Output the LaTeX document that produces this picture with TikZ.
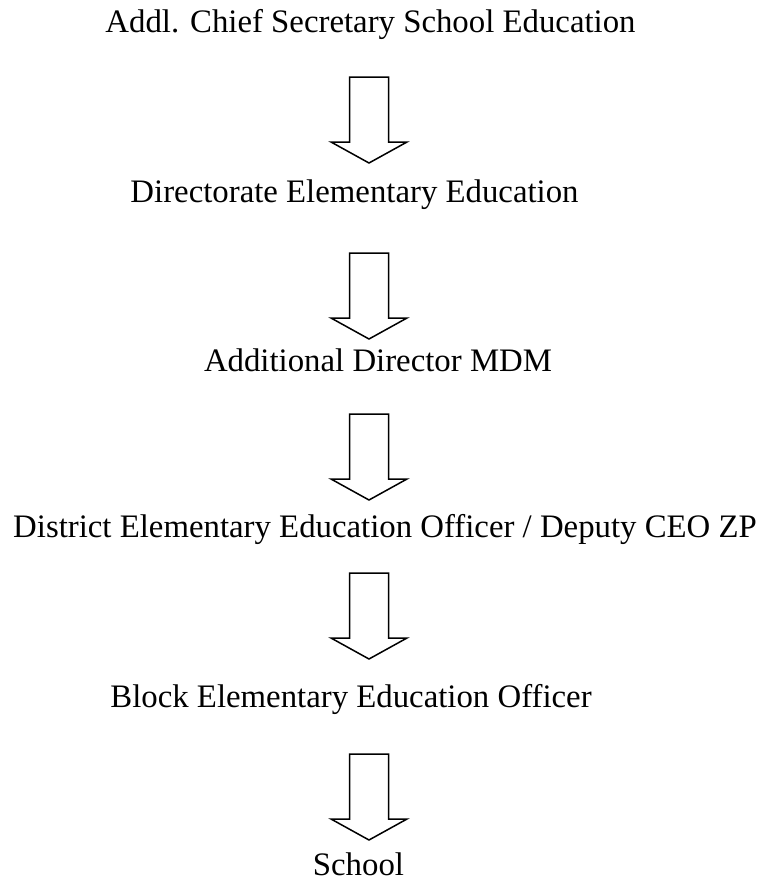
\documentclass[tikz,border=0pt]{standalone}
\usepackage{fontspec}
\setmainfont{Liberation Serif}
\tikzset{
    level text/.style={anchor=base, inner sep=0pt, text depth=0pt, font=\fontsize{32.8pt}{40pt}\selectfont},
    outline/.style={draw=black, line width=1.5pt}
}
\def\blockarrow{++(-19.5,0) -- ++(0,65) -- ++(-18.5,0) -- ++(38,21) -- ++(38,-21) -- ++(-18.5,0) -- ++(0,-65) -- cycle}

\begin{document}
\begin{tikzpicture}[x=1pt, y=-1pt]
    % Fix the page to the size of the chart
    \useasboundingbox (0,0) rectangle (762,879);

    % The offices, top to bottom
    \node[level text] (secy)   at (370.5,32)  {Addl. Chief Secretary School Education};
    \node[level text] (dee)    at (354.5,202) {Directorate Elementary Education};
    \node[level text] (addl)   at (378,371)   {Additional Director MDM};
    \node[level text] (deo)    at (385,537)   {District Elementary Education Officer / Deputy CEO ZP};
    \node[level text] (beo)    at (351,707)   {Block Elementary Education Officer};
    \node[level text] (school) at (358.5,875) {School};

    % Hollow block arrows between them
    \foreach \top [count=\i] in {77,253,414,573,754}
        \draw[outline] (369,\top) coordinate (arrow\i) \blockarrow;
\end{tikzpicture}
\end{document}
